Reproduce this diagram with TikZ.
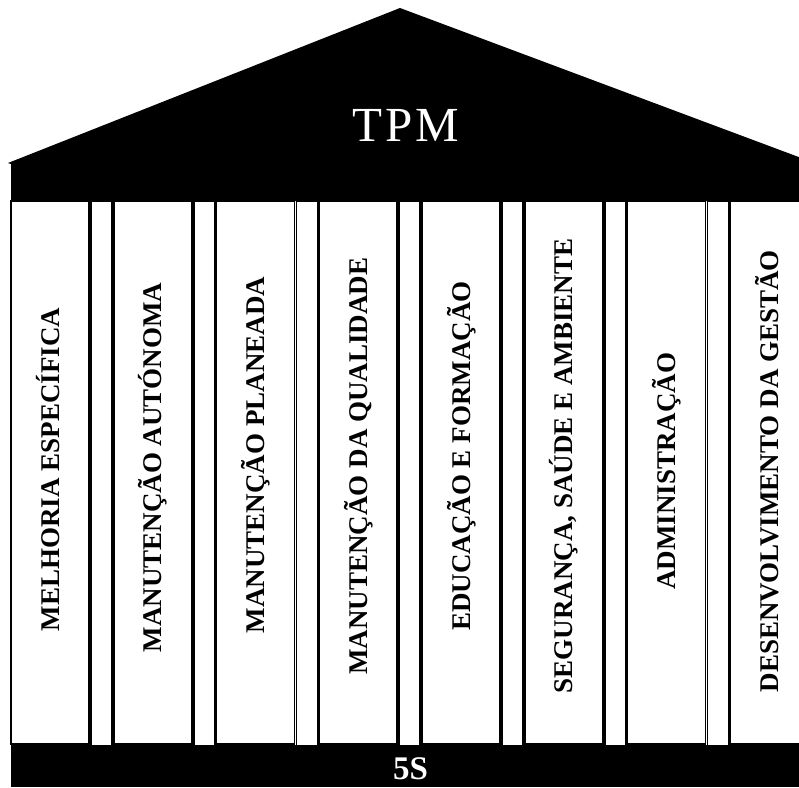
\documentclass[tikz,border=0pt]{standalone}
\usepackage{fontspec}
\setmainfont{Liberation Serif}
\begin{document}
\begin{tikzpicture}[x=1pt,y=-1pt,
  pillar/.style={draw=black, fill=white, line width=1.8pt},
  pillarlabel/.style={rotate=90, anchor=base, inner sep=0pt,
    font=\fontsize{27}{27}\selectfont\bfseries},
  whitetitle/.style={anchor=base, inner sep=0pt, text=white},
]
\useasboundingbox (0,0) rectangle (799,787);
\clip (0,0) rectangle (799,787);

% roof and lintel
\fill[black] (8,163) -- (400,8) -- (812,162) -- (812,201) -- (11,201) -- (11,164) -- cycle;
% foundation
\fill[black] (11,745) rectangle (812,787);

% pillars and the narrow strips between them
\foreach \i in {0,...,7}
  \draw[pillar] ({11+102.75*\i},201) rectangle ({89+102.75*\i},744);
\foreach \i in {0,...,6}
  \draw[pillar] ({91+102.75*\i},201) rectangle ({112+102.75*\i},745.5);

% pillar labels
\node[pillarlabel] (l1) at (59,469.5)    {MELHORIA ESPECÍFICA};
\node[pillarlabel] (l2) at (161.75,467.5) {MANUTENÇÃO AUTÓNOMA};
\node[pillarlabel] (l3) at (264.5,455)   {MANUTENÇÃO PLANEADA};
\node[pillarlabel] (l4) at (367.25,466)  {MANUTENÇÃO DA QUALIDADE};
\node[pillarlabel] (l5) at (470,456)     {EDUCAÇÃO E FORMAÇÃO};
\node[pillarlabel] (l6) at (572.75,466)  {SEGURANÇA, SAÚDE E AMBIENTE};
\node[pillarlabel] (l7) at (675.5,471)   {ADMINISTRAÇÃO};
\node[pillarlabel] (l8) at (778.25,471)  {DESENVOLVIMENTO DA GESTÃO};

% titles
\node[whitetitle, font=\fontsize{49}{49}\selectfont\addfontfeatures{LetterSpace=6}] (tpm) at (406,141.7) {TPM};
\node[whitetitle, font=\fontsize{33}{33}\selectfont\bfseries] (fiveS) at (410.5,779.3) {5S};
\end{tikzpicture}
\end{document}
